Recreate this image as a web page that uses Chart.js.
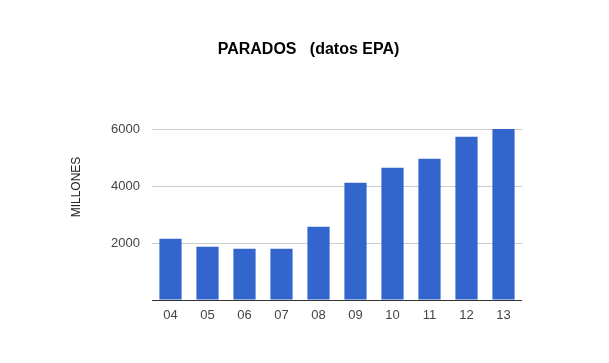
<!DOCTYPE html>
<html>
<head>
<meta charset="utf-8">
<script src="https://cdn.jsdelivr.net/npm/chart.js@4/dist/chart.umd.min.js"></script>
<style>
html,body{margin:0;padding:0;background:#fff;}
#wrap{width:609px;height:363px;position:relative;}
</style>
</head>
<body>
<div id="wrap"><canvas id="c" width="609" height="363"></canvas></div>
<script>
const categories = ['04','05','06','07','08','09','10','11','12','13'];
const parados = [2150, 1870, 1800, 1800, 2570, 4115, 4640, 4955, 5730, 6000];
const yTicks = [0, 2000, 4000, 6000];
const titleText = 'PARADOS   (datos EPA)';
const yTitleText = 'MILLONES';

const textPlugin = {
  id: 'texts',
  afterDraw(chart) {
    const ctx = chart.ctx;
    ctx.save();
    ctx.fillStyle = '#000';
    ctx.font = 'bold 16px "Liberation Sans", Arial, sans-serif';
    ctx.textAlign = 'center';
    ctx.textBaseline = 'alphabetic';
    ctx.fillText(titleText, 308.5, 54);
    ctx.translate(80, 187);
    ctx.rotate(-Math.PI / 2);
    ctx.font = '12px "Liberation Sans", Arial, sans-serif';
    ctx.fillStyle = '#222';
    ctx.fillText(yTitleText, 0, 0);
    ctx.restore();
  }
};

new Chart(document.getElementById('c'), {
  type: 'bar',
  data: {
    labels: categories,
    datasets: [{
      data: parados,
      backgroundColor: '#3366cc',
      borderWidth: 0,
      categoryPercentage: 1.0,
      barPercentage: 0.6
    }]
  },
  options: {
    responsive: false,
    animation: false,
    devicePixelRatio: 1,
    layout: { padding: { top: 129, left: 0, right: 87, bottom: 0 } },
    plugins: { legend: { display: false }, title: { display: false }, tooltip: { enabled: false } },
    scales: {
      x: {
        grid: { display: false, drawTicks: false },
        border: { display: false },
        ticks: {
          color: '#444',
          font: { family: '"Liberation Sans", Arial, sans-serif', size: 13 },
          padding: 8,
          maxRotation: 0
        },
        afterFit(s) { s.height = 63; }
      },
      y: {
        min: 0,
        max: 6000,
        afterBuildTicks(s) { s.ticks = yTicks.map(v => ({ value: v })); },
        grid: {
          drawTicks: false,
          color: (c) => c.tick && c.tick.value === 0 ? '#333' : '#cccccc',
          lineWidth: 1
        },
        border: { display: false },
        ticks: {
          color: '#444',
          font: { family: '"Liberation Sans", Arial, sans-serif', size: 13 },
          padding: 12,
          callback: (v) => v === 0 ? '' : String(v)
        },
        afterFit(s) { s.width = 152; }
      }
    }
  },
  plugins: [textPlugin]
});
</script>
</body>
</html>
